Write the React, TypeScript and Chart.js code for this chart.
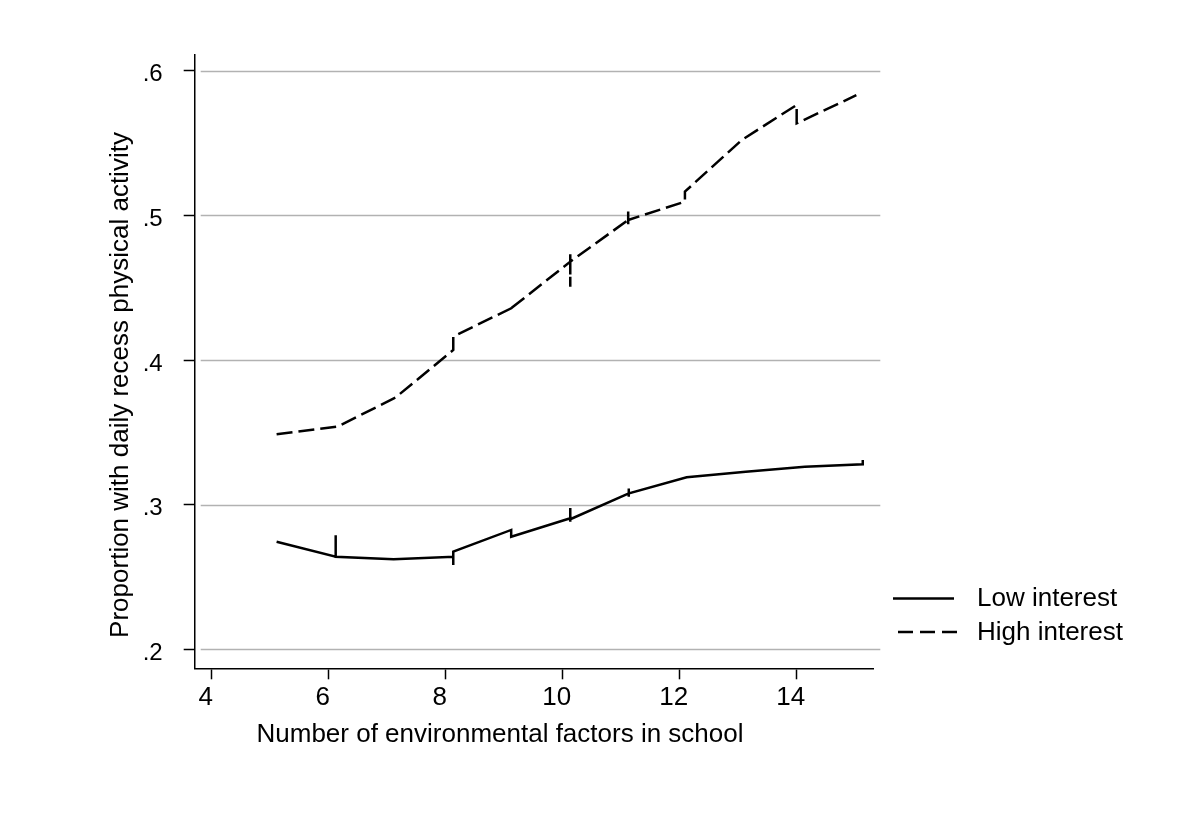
import { useEffect, useRef } from "react";
import { Chart, registerables } from "chart.js";

Chart.register(...registerables);

const seriesLabels = ["Low interest", "High interest"];
const xTitle = "Number of environmental factors in school";
const yTitle = "Proportion with daily recess physical activity";

const xTicks = [4, 6, 8, 10, 12, 14];
const yTicks = [0.2, 0.3, 0.4, 0.5, 0.6];

const lowX = [5.11, 6.12, 6.12, 6.12, 7.11, 8.13, 8.13, 8.13, 9.12, 9.12, 10.13, 10.13, 10.13, 10.13, 11.13, 11.13, 11.13, 11.13, 12.12, 13.13, 14.14, 15.13, 15.13];
const lowY = [0.2745, 0.2641, 0.279, 0.2641, 0.2623, 0.2641, 0.2584, 0.2676, 0.2826, 0.2779, 0.2907, 0.2978, 0.2883, 0.29, 0.3079, 0.3113, 0.3056, 0.3079, 0.319, 0.3229, 0.3263, 0.328, 0.331];

const highX = [5.11, 6.15, 7.14, 8.13, 8.13, 9.12, 9.12, 9.12, 10.13, 10.13, 10.13, 10.13, 11.12, 11.12, 11.12, 11.12, 12.09, 12.09, 13.06, 14.0, 14.0, 15.02];
const highY = [0.3487, 0.354, 0.374, 0.407, 0.4162, 0.4358, 0.438, 0.4358, 0.468, 0.475, 0.4507, 0.468, 0.4968, 0.5026, 0.4922, 0.4968, 0.5095, 0.5164, 0.552, 0.5763, 0.5636, 0.583];

const FONT = "'Liberation Sans', Arial, Helvetica, sans-serif";
const FS = 26;

const W = 1200;
const H = 837;
const AREA = { left: 194.7, right: 873.3, top: 55, bottom: 668.3 };

const decorPlugin = {
  id: "decor",
  beforeDatasetsDraw(chart: any) {
    const { ctx, chartArea } = chart;
    const y = chart.scales.y;
    ctx.save();
    ctx.strokeStyle = "#b2b2b2";
    ctx.lineWidth = 1.3;
    yTicks.forEach((v) => {
      const py = Math.round(y.getPixelForValue(v)) + 0.5;
      ctx.beginPath();
      ctx.moveTo(chartArea.left + 6, py);
      ctx.lineTo(chartArea.right + 7, py);
      ctx.stroke();
    });
    ctx.restore();
  },
  afterDraw(chart: any) {
    const { ctx } = chart;
    ctx.save();
    ctx.fillStyle = "#000";
    ctx.font = `${FS}px ${FONT}`;
    ctx.textBaseline = "middle";
    ctx.textAlign = "center";
    ctx.fillText(xTitle, 500, 735);
    ctx.save();
    ctx.translate(121, 385);
    ctx.rotate(-Math.PI / 2);
    ctx.fillText(yTitle, 0, 0);
    ctx.restore();

    // legend
    ctx.textAlign = "left";
    ctx.strokeStyle = "#000";
    ctx.lineWidth = 2.5;
    ctx.beginPath();
    ctx.setLineDash([]);
    ctx.moveTo(893, 598.5);
    ctx.lineTo(954, 598.5);
    ctx.stroke();
    ctx.fillText(seriesLabels[0], 977, 599);
    ctx.beginPath();
    ctx.setLineDash([15, 7]);
    ctx.moveTo(898, 632);
    ctx.lineTo(960, 632);
    ctx.stroke();
    ctx.setLineDash([]);
    ctx.fillText(seriesLabels[1], 977, 633);
    ctx.restore();
  },
};

export default function App() {
  const ref = useRef<HTMLCanvasElement | null>(null);

  useEffect(() => {
    document.body.style.margin = "0";
    const canvas = ref.current;
    if (!canvas) return;
    const chart = new Chart(canvas, {
      type: "line",
      data: {
        datasets: [
          {
            label: seriesLabels[0],
            data: lowX.map((x, i) => ({ x, y: lowY[i] })),
            borderColor: "#000",
            borderWidth: 2.5,
            pointRadius: 0,
            tension: 0,
            fill: false,
          },
          {
            label: seriesLabels[1],
            data: highX.map((x, i) => ({ x, y: highY[i] })),
            borderColor: "#000",
            borderWidth: 2.5,
            borderDash: [16, 6],
            pointRadius: 0,
            tension: 0,
            fill: false,
          },
        ],
      },
      options: {
        responsive: false,
        animation: false,
        devicePixelRatio: 1,
        layout: {
          padding: { left: 0, top: AREA.top, right: W - AREA.right, bottom: 0 },
        },
        plugins: {
          legend: { display: false },
          tooltip: { enabled: false },
          title: { display: false },
        },
        scales: {
          x: {
            type: "linear",
            min: 3.71,
            max: 15.31,
            afterFit: (s: any) => {
              s.height = H - AREA.bottom;
            },
            afterBuildTicks: (s: any) => {
              s.ticks = xTicks.map((v) => ({ value: v }));
            },
            grid: {
              drawOnChartArea: false,
              drawTicks: true,
              tickLength: 11,
              tickWidth: 1.5,
              tickColor: "#000",
            },
            border: { display: true, color: "#000", width: 1.5 },
            ticks: {
              color: "#000",
              font: { family: FONT, size: FS },
              padding: 3,
              labelOffset: -6,
              maxRotation: 0,
              autoSkip: false,
            },
          },
          y: {
            type: "linear",
            min: 0.187,
            max: 0.6108,
            afterFit: (s: any) => {
              s.width = AREA.left;
            },
            afterBuildTicks: (s: any) => {
              s.ticks = yTicks.map((v) => ({ value: v }));
            },
            grid: {
              drawOnChartArea: false,
              drawTicks: true,
              tickLength: 11,
              tickWidth: 1.5,
              tickColor: "#000",
            },
            border: { display: true, color: "#000", width: 1.5 },
            ticks: {
              color: "#000",
              font: { family: FONT, size: 24 },
              padding: 21,
              labelOffset: 4,
              autoSkip: false,
              callback: (v: any) => Number(v).toFixed(1).replace(/^0/, ""),
            },
          },
        },
      },
      plugins: [decorPlugin],
    });
    return () => chart.destroy();
  }, []);

  return (
    <div style={{ position: "fixed", left: 0, top: 0, width: W, height: H, background: "#fff" }}>
      <canvas ref={ref} width={W} height={H} style={{ width: W, height: H, display: "block" }} />
    </div>
  );
}
